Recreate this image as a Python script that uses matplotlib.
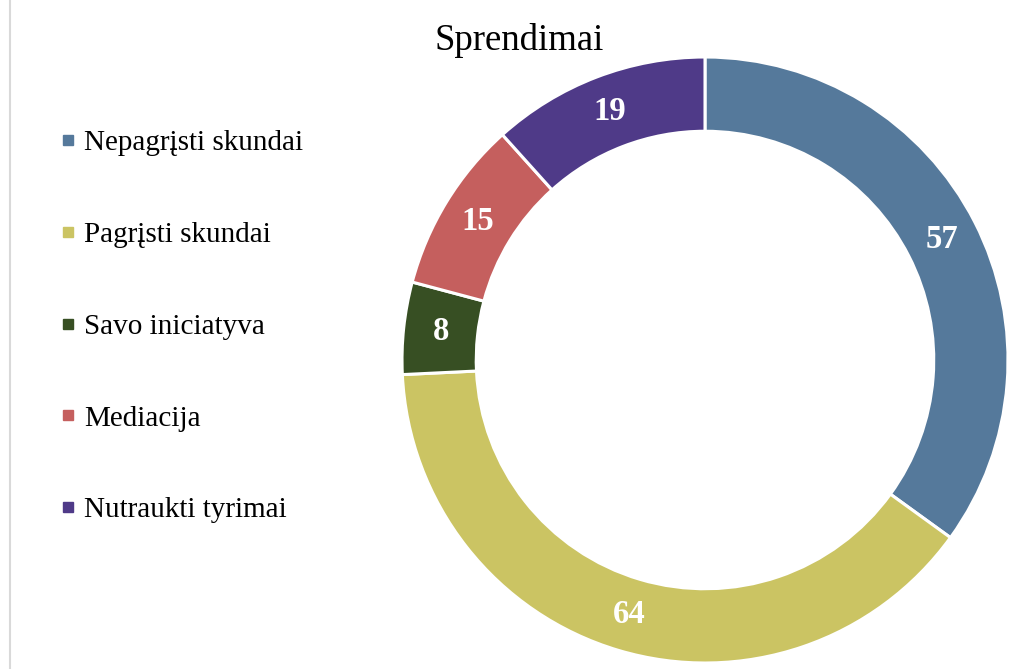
import matplotlib.pyplot as plt
import numpy as np
from matplotlib.lines import Line2D

plt.rcParams["font.family"] = ["Liberation Serif", "DejaVu Serif"]

categories = [
    "Nepagrįsti skundai",
    "Pagrįsti skundai",
    "Savo iniciatyva",
    "Mediacija",
    "Nutraukti tyrimai",
]
values = [57, 64, 8, 15, 19]
colors = ["#55799B", "#CBC463", "#374F23", "#C55F5E", "#4F3A88"]

W, H = 1016, 669
fig = plt.figure(figsize=(W / 100, H / 100), dpi=100)

# donut: centre ~ (705, 360) px, outer radius ~303 px
ax = fig.add_axes([402 / W, 6 / H, 606 / W, 606 / H])
ring = 0.245
wedges, _ = ax.pie(
    values,
    colors=colors,
    startangle=90,
    counterclock=False,
    radius=1.0,
    wedgeprops=dict(width=ring, edgecolor="white", linewidth=2.2),
)
ax.set_xlim(-1, 1)
ax.set_ylim(-1, 1)
ax.set_aspect("equal")
ax.axis("off")

# value labels in the middle of the ring
total = sum(values)
mid_r = 1.0 - ring / 2
start = 90.0
for v in values:
    sweep = v / total * 360
    ang = np.deg2rad(start - sweep / 2)
    ax.text(
        mid_r * np.cos(ang),
        mid_r * np.sin(ang),
        str(v),
        ha="center",
        va="center",
        color="white",
        fontsize=23.5,
        fontweight="bold",
    )
    start -= sweep

fig.text(519 / W, 1 - 40 / H, "Sprendimai", ha="center", va="center", fontsize=26.5)

handles = [
    Line2D([], [], marker="s", linestyle="none", markersize=7.3, color=c)
    for c in colors
]
fig.legend(
    handles,
    categories,
    loc="upper left",
    bbox_to_anchor=(61 / W, 1 - 130 / H),
    frameon=False,
    fontsize=21,
    handlelength=0.5,
    handletextpad=0.3,
    labelspacing=2.24,
    borderaxespad=0,
    borderpad=0,
)

# thin frame line on the left edge
fig.add_artist(Line2D([10 / W, 10 / W], [0, 1], color="#D9D9D9", linewidth=1.5))

fig.savefig("out.png", dpi=100)
